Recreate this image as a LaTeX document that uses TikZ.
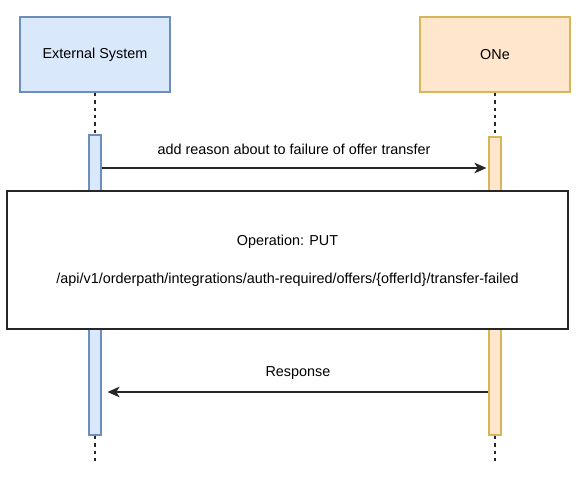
\documentclass[tikz,border=0pt]{standalone}
\usepackage{fontspec}
\setmainfont{Liberation Sans}
\usetikzlibrary{arrows.meta}
\definecolor{extfill}{HTML}{DAE8FC}
\definecolor{extline}{HTML}{6C8EBF}
\definecolor{onefill}{HTML}{FFE6CC}
\definecolor{oneline}{HTML}{D6B656}
\tikzset{
  actor/.style={draw, line width=0.9pt, minimum width=150*0.75pt, minimum height=75*0.75pt, inner sep=0pt},
  bar/.style={draw, line width=0.9pt, minimum width=12*0.75pt, inner sep=0pt},
  life/.style={dash pattern=on 2.6pt off 3pt, line width=0.8pt, black!85},
  msg/.style={-{Stealth[length=9pt,width=8pt,inset=2.5pt]}, line width=0.8pt, black!85},
}
\begin{document}
\begin{tikzpicture}[x=0.75pt, y=-0.75pt, font=\fontsize{10.8}{12}\selectfont]
  \useasboundingbox (0,0) rectangle (584,480);
  % participants
  \node[actor, fill=extfill, draw=extline] (ext) at (95,54.5) {External System};
  \node[actor, fill=onefill, draw=oneline] (one) at (495,54.5) {ONe};
  % activation bars
  \node[bar, fill=extfill, draw=extline, minimum height=300*0.75pt] (extbar) at (95,285) {};
  \node[bar, fill=onefill, draw=oneline, minimum height=298*0.75pt] (onebar) at (495,286) {};
  \coordinate (extend) at (95,464);
  \coordinate (oneend) at (495,462);
  % lifelines
  \draw[life] (ext.south) -- (extbar.north);
  \draw[life] (one.south) -- (onebar.north);
  \draw[life] (extbar.south) -- (extend);
  \draw[life] (onebar.south) -- (oneend);
  % request
  \draw[msg] (extbar.east |- 0,168) -- node[above=6pt, text=black]{add reason about to failure of offer transfer} ([xshift=-1.5pt]onebar.west |- 0,168);
  % operation box
  \node[draw, line width=0.9pt, black!85, fill=white, minimum width=561*0.75pt, minimum height=138*0.75pt, inner sep=0pt] (op) at (287.5,260) {};
  \node (opname) at (287.5,242) {Operation: PUT};
  \node (opurl) at (287.5,280) {/api/v1/orderpath/integrations/auth-required/offers/\{offerId\}/transfer-failed};
  % response
  \draw[msg] (onebar.west |- 0,392) -- node[above=6pt, text=black]{Response} ([xshift=4.5pt]extbar.east |- 0,392);
\end{tikzpicture}
\end{document}
